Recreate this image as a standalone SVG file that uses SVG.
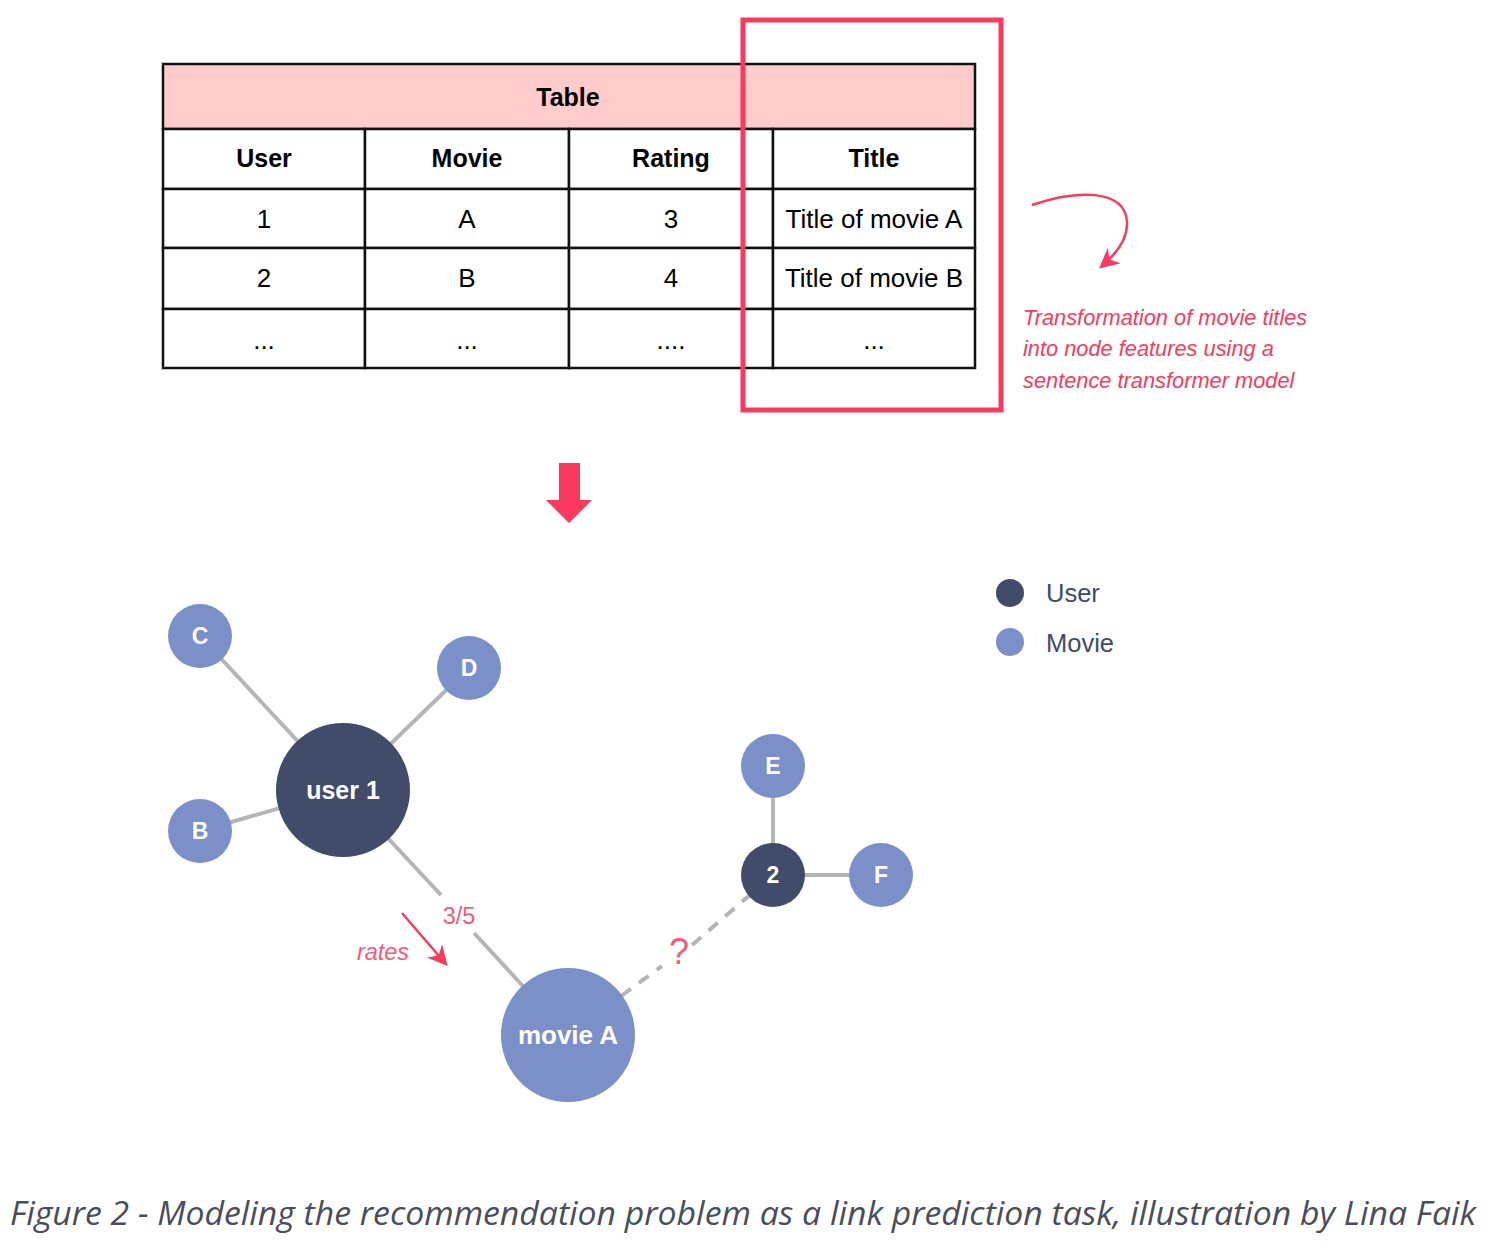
<svg xmlns="http://www.w3.org/2000/svg" width="1488" height="1256" viewBox="0 0 1488 1256">
<style>
.cell{fill:#fff;stroke:#111;stroke-width:2.5}
.th{font-family:"Liberation Sans",Arial,sans-serif;font-weight:bold;font-size:25px;fill:#000;text-anchor:middle}
.td{font-family:"Liberation Sans",Arial,sans-serif;font-size:26px;fill:#000;text-anchor:middle}
.edge{stroke:#b5b5b5;stroke-width:4;fill:none}
.user{fill:#414b6a}
.movie{fill:#7b90c8}
.nl{font-family:"Liberation Sans",Arial,sans-serif;font-weight:bold;fill:#fff;text-anchor:middle}
.pink{font-family:"Liberation Sans",Arial,sans-serif;font-style:italic;fill:#fa3a5c}
</style>
<defs>
<marker id="ah" viewBox="0 0 10 10" refX="8" refY="5" markerWidth="8" markerHeight="8" orient="auto" markerUnits="strokeWidth">
<path d="M0,0 L10,5 L0,10 L3,5 Z" fill="#fa3a5c"/>
</marker>
</defs>
<rect width="1488" height="1256" fill="#fff"/>
<g id="table">
<rect x="163" y="64" width="812" height="65" fill="#ffcccb" stroke="#111" stroke-width="2.5"/>
<text class="th" x="568" y="106">Table</text>
<g>
<rect class="cell" x="163" y="129" width="202" height="60"/>
<rect class="cell" x="365" y="129" width="204" height="60"/>
<rect class="cell" x="569" y="129" width="204" height="60"/>
<rect class="cell" x="773" y="129" width="202" height="60"/>
<rect class="cell" x="163" y="189" width="202" height="59"/>
<rect class="cell" x="365" y="189" width="204" height="59"/>
<rect class="cell" x="569" y="189" width="204" height="59"/>
<rect class="cell" x="773" y="189" width="202" height="59"/>
<rect class="cell" x="163" y="248" width="202" height="61"/>
<rect class="cell" x="365" y="248" width="204" height="61"/>
<rect class="cell" x="569" y="248" width="204" height="61"/>
<rect class="cell" x="773" y="248" width="202" height="61"/>
<rect class="cell" x="163" y="309" width="202" height="59"/>
<rect class="cell" x="365" y="309" width="204" height="59"/>
<rect class="cell" x="569" y="309" width="204" height="59"/>
<rect class="cell" x="773" y="309" width="202" height="59"/>
</g>
<text class="th" x="264" y="167">User</text>
<text class="th" x="467" y="167">Movie</text>
<text class="th" x="671" y="167">Rating</text>
<text class="th" x="874" y="167">Title</text>
<text class="td" x="264" y="228">1</text>
<text class="td" x="467" y="228">A</text>
<text class="td" x="671" y="228">3</text>
<text class="td" x="874" y="228">Title of movie A</text>
<text class="td" x="264" y="287">2</text>
<text class="td" x="467" y="287">B</text>
<text class="td" x="671" y="287">4</text>
<text class="td" x="874" y="287">Title of movie B</text>
<text class="td" x="264" y="349">...</text>
<text class="td" x="467" y="349">...</text>
<text class="td" x="671" y="349">....</text>
<text class="td" x="874" y="349">...</text>
</g>
<g id="highlight">
<rect x="743" y="20" width="258" height="390" fill="none" stroke="#fa3a5c" stroke-width="5"/>
</g>
<g id="note">
<path d="M1032,205 C1075,190 1125,188 1127,222 C1128,240 1115,255 1102,266" fill="none" stroke="#fa3a5c" stroke-width="2.5" marker-end="url(#ah)"/>
<text class="pink" font-size="21.8" x="1023" y="325">Transformation of movie titles</text>
<text class="pink" font-size="21.8" x="1023" y="356">into node features using a</text>
<text class="pink" font-size="21.8" x="1023" y="388">sentence transformer model</text>
</g>
<g id="down-arrow">
<path d="M559,463 H580 V500 H592 L569,523 L546,500 H559 Z" fill="#fa3a5c"/>
</g>
<g id="connectors">
<line class="edge" x1="200" y1="636" x2="343" y2="790"/>
<line class="edge" x1="469" y1="668" x2="343" y2="790"/>
<line class="edge" x1="200" y1="831" x2="343" y2="790"/>
<line class="edge" x1="773" y1="766" x2="773" y2="875"/>
<line class="edge" x1="881" y1="875" x2="773" y2="875"/>
<line class="edge" x1="343" y1="790" x2="441" y2="895"/>
<line class="edge" x1="474" y1="933" x2="568" y2="1035"/>
<line class="edge" x1="568" y1="1035" x2="662" y2="966" stroke-dasharray="12,10"/>
<line class="edge" x1="692" y1="945" x2="773" y2="875" stroke-dasharray="12,10"/>
<text x="459" y="924" font-family="Liberation Sans,Arial,sans-serif" font-size="23.5" fill="#f45a7a" text-anchor="middle">3/5</text>
<text x="679" y="964" font-family="Liberation Sans,Arial,sans-serif" font-size="36" fill="#f45a7a" text-anchor="middle">?</text>
<text x="383" y="960" font-family="Liberation Sans,Arial,sans-serif" font-style="italic" font-size="23.5" fill="#f45a7a" text-anchor="middle">rates</text>
<line x1="402" y1="913" x2="445" y2="963" stroke="#fa3a5c" stroke-width="2.5" marker-end="url(#ah)"/>
</g>
<g id="node-user1"><circle class="user" cx="343" cy="790" r="67"/><text class="nl" x="343" y="799" font-size="25">user 1</text></g>
<g id="node-movieA"><circle class="movie" cx="568" cy="1035" r="67"/><text class="nl" x="568" y="1044" font-size="26">movie A</text></g>
<g id="node-C"><circle class="movie" cx="200" cy="636" r="32"/><text class="nl" x="200" y="644" font-size="23">C</text></g>
<g id="node-D"><circle class="movie" cx="469" cy="668" r="32"/><text class="nl" x="469" y="676" font-size="23">D</text></g>
<g id="node-B"><circle class="movie" cx="200" cy="831" r="32"/><text class="nl" x="200" y="839" font-size="23">B</text></g>
<g id="node-E"><circle class="movie" cx="773" cy="766" r="32"/><text class="nl" x="773" y="774" font-size="23">E</text></g>
<g id="node-2"><circle class="user" cx="773" cy="875" r="32"/><text class="nl" x="773" y="883" font-size="23">2</text></g>
<g id="node-F"><circle class="movie" cx="881" cy="875" r="32"/><text class="nl" x="881" y="883" font-size="23">F</text></g>
<g id="legend">
<circle class="user" cx="1010" cy="593" r="14"/>
<text x="1046" y="602" font-family="Liberation Sans,Arial,sans-serif" font-size="25.5" fill="#3f4a6a">User</text>
<circle class="movie" cx="1010" cy="642" r="14"/>
<text x="1046" y="652" font-family="Liberation Sans,Arial,sans-serif" font-size="25.5" fill="#3f4a6a">Movie</text>
</g>
<g id="caption">
<text x="10" y="1225" font-family="Open Sans,Noto Sans,sans-serif" font-style="italic" font-size="33" fill="#4a4d5a" textLength="1466" lengthAdjust="spacingAndGlyphs">Figure 2 - Modeling the recommendation problem as a link prediction task, illustration by Lina Faik</text>
</g>
</svg>
